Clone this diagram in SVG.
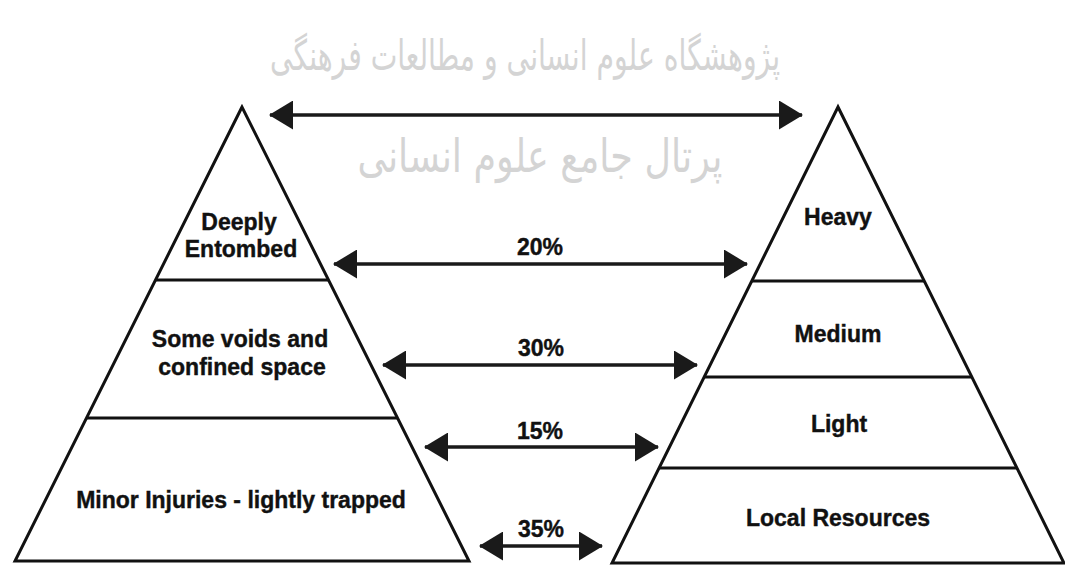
<svg xmlns="http://www.w3.org/2000/svg" width="1065" height="565" viewBox="0 0 1065 565">
<style>
.shape{fill:none;stroke:#111;stroke-width:3;stroke-linejoin:miter}
.div{stroke:#111;stroke-width:3}
.lbl{font-family:"Liberation Sans",Arial,sans-serif;font-weight:bold;font-size:23px;fill:#111;stroke:#111;stroke-width:0.4;text-anchor:middle}
.conn{stroke:#1a1a1a;stroke-width:3.5;fill:none;marker-start:url(#ah);marker-end:url(#ah)}
.wm{font-family:"DejaVu Sans",sans-serif;fill:#d4d4d4;text-anchor:middle}
</style>
<defs>
<marker id="ah" markerUnits="userSpaceOnUse" viewBox="0 0 24 29" refX="23" refY="14.5" markerWidth="24" markerHeight="29" orient="auto-start-reverse">
<path d="M0,0 L24,14.5 L0,29 Z" fill="#1a1a1a"/>
</marker>
</defs>
<rect width="1065" height="565" fill="#fff"/>
<g id="watermark">
<text class="wm" x="525" y="70" font-size="42" textLength="510" lengthAdjust="spacingAndGlyphs" direction="rtl">پژوهشگاه علوم انسانی و مطالعات فرهنگی</text>
<text class="wm" x="540" y="172" font-size="46" textLength="365" lengthAdjust="spacingAndGlyphs" direction="rtl">پرتال جامع علوم انسانی</text>
</g>
<g id="left-pyramid">
<polygon class="shape" points="242,107 15,561 469,561"/>
<line class="div" x1="155.5" y1="280" x2="328.5" y2="280"/>
<line class="div" x1="86.5" y1="418" x2="397.5" y2="418"/>
</g>
<g id="node-deeply-entombed"><text class="lbl" x="239" y="230">Deeply</text><text class="lbl" x="241" y="257">Entombed</text></g>
<g id="node-some-voids"><text class="lbl" x="240" y="347">Some voids and</text><text class="lbl" x="242" y="375">confined space</text></g>
<g id="node-minor-injuries"><text class="lbl" x="241" y="508">Minor Injuries - lightly trapped</text></g>
<g id="right-pyramid">
<polygon class="shape" points="838,107 612,563 1064,563"/>
<line class="div" x1="752" y1="281" x2="924" y2="281"/>
<line class="div" x1="704" y1="377" x2="972" y2="377"/>
<line class="div" x1="659" y1="468" x2="1017" y2="468"/>
</g>
<g id="node-heavy"><text class="lbl" x="838" y="225">Heavy</text></g>
<g id="node-medium"><text class="lbl" x="838" y="342">Medium</text></g>
<g id="node-light"><text class="lbl" x="839" y="432">Light</text></g>
<g id="node-local-resources"><text class="lbl" x="838" y="526">Local Resources</text></g>
<g id="connectors">
<line class="conn" x1="270" y1="115" x2="802" y2="115"/>
<line class="conn" x1="334" y1="264" x2="747" y2="264"/>
<line class="conn" x1="383" y1="365" x2="697" y2="365"/>
<line class="conn" x1="425" y1="447" x2="658" y2="447"/>
<line class="conn" x1="480" y1="546" x2="602" y2="546"/>
<text class="lbl" x="540" y="255">20%</text>
<text class="lbl" x="541" y="356">30%</text>
<text class="lbl" x="540" y="439">15%</text>
<text class="lbl" x="541" y="537">35%</text>
</g>
</svg>
